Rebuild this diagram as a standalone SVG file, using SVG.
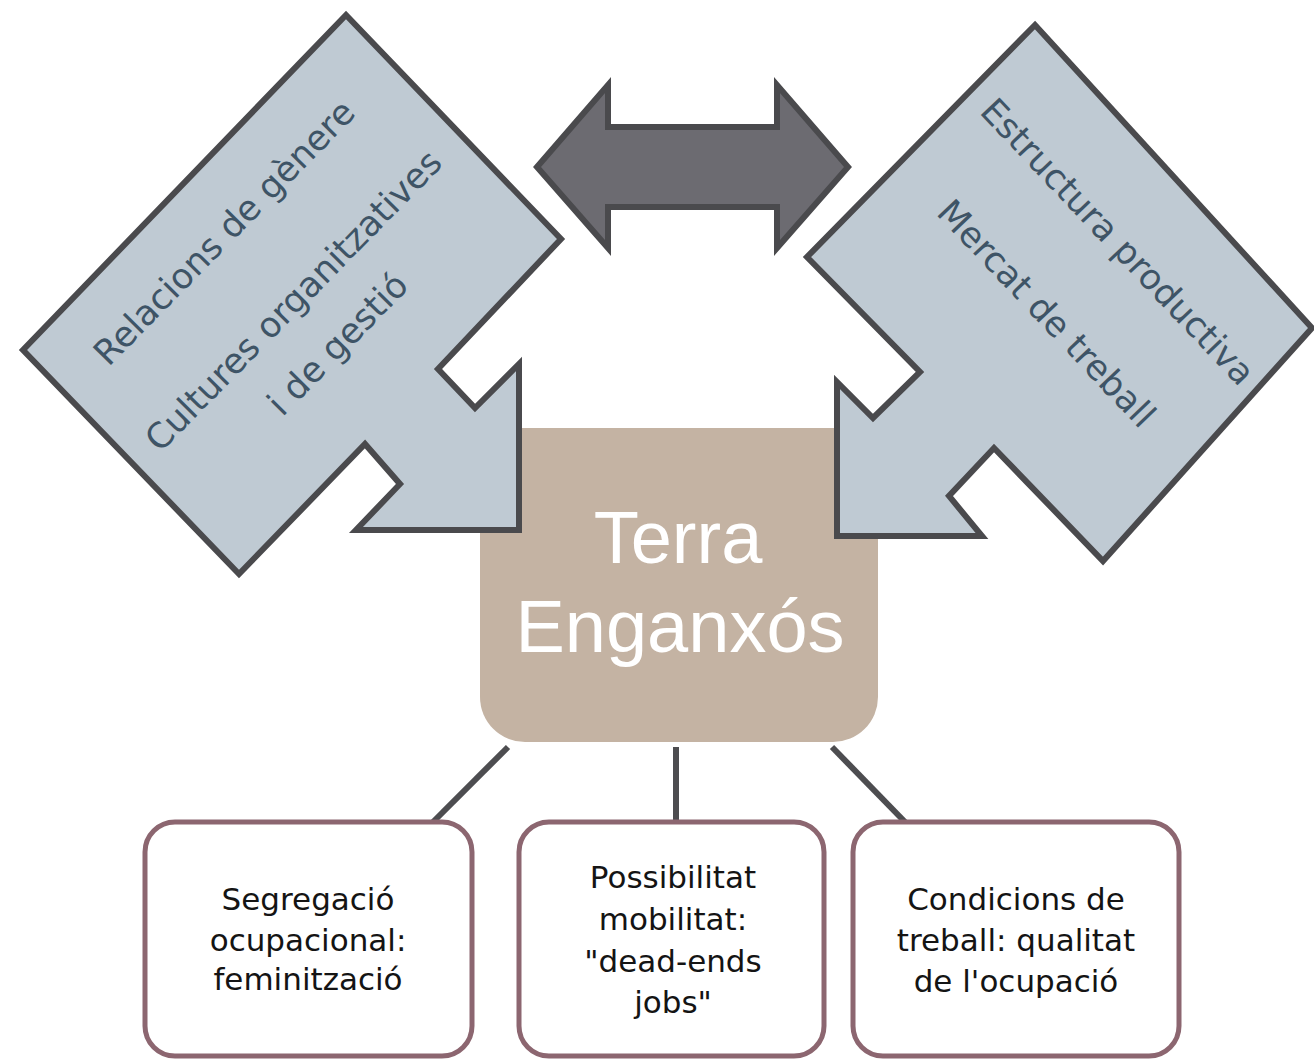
<svg xmlns="http://www.w3.org/2000/svg" width="1314" height="1059" viewBox="0 0 1314 1059">
<style>
.big{fill:#bfcad3;stroke:#4a4a4d;stroke-width:6;stroke-linejoin:miter}
.dbl{fill:#6c6b71;stroke:#4a4a4d;stroke-width:6;stroke-linejoin:miter}
.rot{font-family:"DejaVu Sans",sans-serif;font-size:35px;fill:#3e5466;text-anchor:middle}
.title{font-family:"Liberation Sans",Arial,sans-serif;font-size:74px;fill:#ffffff;text-anchor:middle}
.box{fill:#ffffff;stroke:#8c6670;stroke-width:5}
.bt{font-family:"DejaVu Sans",sans-serif;font-size:31px;fill:#141414;text-anchor:middle}
.conn{stroke:#4d4d50;stroke-width:6;fill:none}
</style>
<rect width="1314" height="1059" fill="#ffffff"/>
<g id="center">
<path d="M480,428 H878 V697 A45,45 0 0 1 833,742 H525 A45,45 0 0 1 480,697 Z" fill="#c4b3a3"/>
<text class="title" x="678" y="563">Terra</text>
<text class="title" x="680" y="652">Enganxós</text>
</g>
<g id="left-arrow">
<path class="big" d="M346,15 L561,239 L438,369 L475,408 L519,364 L519,530 L356,530 L400,484 L365,444 L239,574 L23,350 Z"/>
<g transform="translate(302,309) rotate(-45.5)">
<text class="rot" x="0" y="-97">Relacions de gènere</text>
<text class="rot" x="0" y="0">Cultures organitzatives</text>
<text class="rot" x="0" y="62">i de gestió</text>
</g>
</g>
<g id="right-arrow">
<path class="big" d="M1035,25 L1312,328 L1103,561 L994,448 L949,496 L982,536 L837,536 L837,382 L873,418 L920,372 L807,257 Z"/>
<g transform="translate(1109,250) rotate(46.5)">
<text class="rot" x="0" y="0">Estructura productiva</text>
<text class="rot" x="3" y="101">Mercat de treball</text>
</g>
</g>
<g id="double-arrow">
<path class="dbl" d="M537,167 L608,85 L608,127 L777,127 L777,85 L848,167 L777,248 L777,207 L608,207 L608,248 Z"/>
</g>
<g id="connectors">
<line class="conn" x1="508" y1="747" x2="433" y2="822"/>
<line class="conn" x1="676" y1="747" x2="676" y2="822"/>
<line class="conn" x1="832" y1="747" x2="905" y2="822"/>
</g>
<g id="box1">
<rect class="box" x="145" y="822" width="327" height="234" rx="30"/>
<text class="bt" x="308" y="910">Segregació</text>
<text class="bt" x="308" y="951">ocupacional:</text>
<text class="bt" x="308" y="990">feminització</text>
</g>
<g id="box2">
<rect class="box" x="519" y="822" width="305" height="234" rx="30"/>
<text class="bt" x="673" y="888">Possibilitat</text>
<text class="bt" x="673" y="930">mobilitat:</text>
<text class="bt" x="673" y="972">"dead-ends</text>
<text class="bt" x="673" y="1013">jobs"</text>
</g>
<g id="box3">
<rect class="box" x="853" y="822" width="326" height="234" rx="30"/>
<text class="bt" x="1016" y="910">Condicions de</text>
<text class="bt" x="1016" y="951">treball: qualitat</text>
<text class="bt" x="1016" y="992">de l'ocupació</text>
</g>
</svg>
